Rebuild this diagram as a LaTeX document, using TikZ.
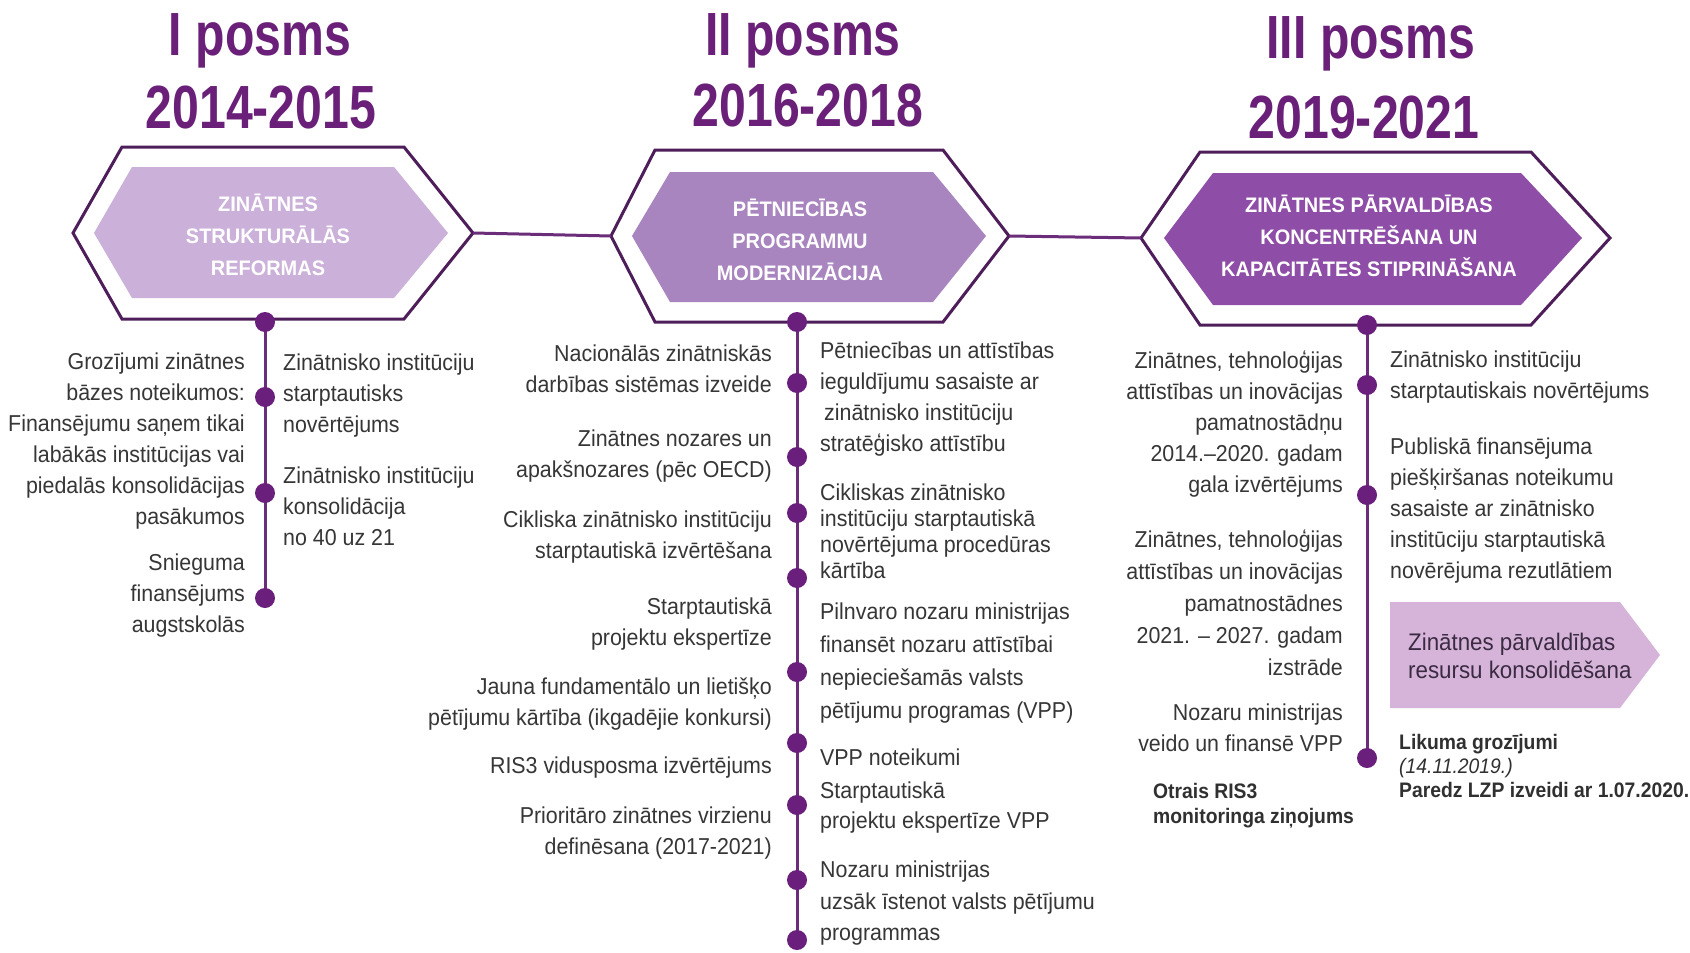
\documentclass[tikz,border=0pt]{standalone}
\usepackage{fontspec}
\setmainfont{Liberation Sans}[FakeStretch=0.93]
\newfontfamily\titlefont{Liberation Sans}[FakeStretch=0.79]
\newfontfamily\hexfont{Liberation Sans}[FakeStretch=0.95]
\newfontfamily\notefont{Liberation Sans}[FakeStretch=0.92]
\definecolor{titlecol}{HTML}{6A2078}
\definecolor{hexline}{HTML}{4E1E5A}
\definecolor{hexA}{HTML}{CBB0D9}
\definecolor{hexB}{HTML}{A985BF}
\definecolor{hexC}{HTML}{8E4DA6}
\definecolor{dotcol}{HTML}{6A1F7C}
\definecolor{tlcol}{HTML}{6B2D7A}
\definecolor{txt}{HTML}{363636}
\definecolor{arrowfill}{HTML}{D6B4D9}
\definecolor{arrowtxt}{HTML}{3A2A42}
\definecolor{notecol}{HTML}{303030}
\begin{document}
\begin{tikzpicture}[x=1pt,y=-1pt,
  body/.style={font=\fontsize{23}{31}\selectfont, text=txt, inner sep=0pt},
  lbl/.style={body, align=right, anchor=east},
  rbl/.style={body, align=left, anchor=west},
  tdot/.style={circle, minimum size=20pt, inner sep=0pt},
  ttl/.style={font=\titlefont\bfseries\fontsize{61}{61}\selectfont, text=titlecol, anchor=base, inner sep=0pt},
  hextext/.style={font=\hexfont\bfseries\fontsize{21}{32}\selectfont, text=white, align=center, inner sep=0pt},
  note/.style={font=\notefont\bfseries\fontsize{21}{25}\selectfont, text=notecol, align=left, anchor=west, inner sep=0pt},
  hexedge/.style={draw=hexline, line width=3pt, line join=miter},
  conn/.style={draw=tlcol, line width=3pt},
  tline/.style={draw=tlcol, line width=3pt}]
\useasboundingbox[fill=white] (0,0) rectangle (1690,953);

% titles
\node[ttl] (t1a) at (260,55) {I posms};
\node[ttl] (t1b) at (261,128) {2014-2015};
\node[ttl] (t2a) at (803,55) {II posms};
\node[ttl] (t2b) at (808,126) {2016-2018};
\node[ttl] (t3a) at (1371,58) {III posms};
\node[ttl] (t3b) at (1364,138) {2019-2021};

% hexagons
\fill[hexA] (132,167) -- (394,167) -- (448,233) -- (394,298) -- (132,298) -- (94,233) -- cycle;
\draw[hexedge] (122,147) -- (404,147) -- (473,233) -- (404,319) -- (122,319) -- (73,233) -- cycle;
\fill[hexB] (670,172) -- (933,172) -- (986,236) -- (933,302) -- (670,302) -- (632,236) -- cycle;
\draw[hexedge] (655,150) -- (943,150) -- (1009,236) -- (943,322) -- (655,322) -- (611,236) -- cycle;
\fill[hexC] (1213,173) -- (1521,173) -- (1582,238) -- (1521,305) -- (1213,305) -- (1164,238) -- cycle;
\draw[hexedge] (1200,152) -- (1531,152) -- (1610,238) -- (1531,325) -- (1200,325) -- (1141,238) -- cycle;
\coordinate (h1e) at (473,233);
\coordinate (h2w) at (611,236);
\coordinate (h2e) at (1009,236);
\coordinate (h3w) at (1141,238);
\draw[conn] (h1e) -- (h2w);
\draw[conn] (h2e) -- (h3w);

\node[hextext] (x1) at (268,235) {ZINĀTNES\\STRUKTURĀLĀS\\REFORMAS};
\node[hextext] (x2) at (800,240) {PĒTNIECĪBAS\\PROGRAMMU\\MODERNIZĀCIJA};
\node[hextext] (x3) at (1369,236) {ZINĀTNES PĀRVALDĪBAS\\KONCENTRĒŠANA UN\\KAPACITĀTES STIPRINĀŠANA};

% arrow box
\fill[arrowfill] (1390,602) -- (1620,602) -- (1660,655) -- (1620,708) -- (1390,708) -- cycle;
\node[rbl, text=arrowtxt, font=\fontsize{24}{28}\selectfont] (ab) at (1408,656) {Zinātnes pārvaldības\\resursu konsolidēšana};

% timeline dots (column 1)
\node[tdot] (a1) at (265,322) {};
\node[tdot] (a2) at (265,397) {};
\node[tdot] (a3) at (265,493) {};
\node[tdot] (a4) at (265,598) {};
% column 2
\node[tdot] (b1) at (797,322) {};
\node[tdot] (b2) at (797,383) {};
\node[tdot] (b3) at (797,457) {};
\node[tdot] (b4) at (797,513) {};
\node[tdot] (b5) at (797,578) {};
\node[tdot] (b6) at (797,672) {};
\node[tdot] (b7) at (797,743) {};
\node[tdot] (b8) at (797,805) {};
\node[tdot] (b9) at (797,880) {};
\node[tdot] (b10) at (797,940) {};
% column 3
\node[tdot] (c1) at (1367,325) {};
\node[tdot] (c2) at (1367,385) {};
\node[tdot] (c3) at (1367,495) {};
\node[tdot] (c4) at (1367,758) {};
\draw[tline] (a1.center) -- (a4.center);
\draw[tline] (b1.center) -- (b10.center);
\draw[tline] (c1.center) -- (c4.center);
\foreach \n in {a1,a2,a3,a4,b1,b2,b3,b4,b5,b6,b7,b8,b9,b10,c1,c2,c3,c4}
  \fill[dotcol] (\n) circle (10pt);

% column 1 texts
\node[lbl] (l11) at (245,441.5) {Grozījumi zinātnes\\bāzes noteikumos:\\Finansējumu saņem tikai\\labākās institūcijas vai\\piedalās konsolidācijas\\pasākumos};
\node[lbl] (l12) at (245,596) {Snieguma\\finansējums\\augstskolās};
\node[rbl] (r11) at (283,396) {Zinātnisko institūciju\\starptautisks\\novērtējums};
\node[rbl] (r12) at (283,506) {Zinātnisko institūciju\\konsolidācija\\no 40 uz 21};

% column 2 texts
\node[lbl] (l21) at (772,369) {Nacionālās zinātniskās\\darbības sistēmas izveide};
\node[lbl] (l22) at (772,456) {Zinātnes nozares un\\apakšnozares (pēc OECD)};
\node[lbl] (l23) at (772,537.5) {Cikliska zinātnisko institūciju\\starptautiskā izvērtēšana};
\node[lbl] (l24) at (772,624) {Starptautiskā\\projektu ekspertīze};
\node[lbl] (l25) at (772,704) {Jauna fundamentālo un lietišķo\\pētījumu kārtība (ikgadējie konkursi)};
\node[lbl] (l26) at (772,768) {RIS3 vidusposma izvērtējums};
\node[lbl] (l27) at (772,833) {Prioritāro zinātnes virzienu\\definēsana (2017-2021)};
\node[rbl] (r21) at (820,399.5) {Pētniecības un attīstības\\ieguldījumu sasaiste ar\\\hspace*{4pt}zinātnisko institūciju\\stratēģisko attīstību};
\node[rbl, font=\fontsize{23}{26}\selectfont] (r22) at (820,531) {Cikliskas zinātnisko\\institūciju starptautiskā\\novērtējuma procedūras\\kārtība};
\node[rbl, font=\fontsize{23}{33}\selectfont] (r23) at (820,663) {Pilnvaro nozaru ministrijas\\finansēt nozaru attīstībai\\nepieciešamās valsts\\pētījumu programas (VPP)};
\node[rbl] (r24) at (820,757) {VPP noteikumi};
\node[rbl, font=\fontsize{23}{30}\selectfont] (r25) at (820,808) {Starptautiskā\\projektu ekspertīze VPP};
\node[rbl, font=\fontsize{23}{31.5}\selectfont] (r26) at (820,903.5) {Nozaru ministrijas\\uzsāk īstenot valsts pētījumu\\programmas};

% column 3 texts
\node[lbl] (l31) at (1343,424.5) {Zinātnes, tehnoloģijas\\attīstības un inovācijas\\pamatnostādņu\\2014.–2020. gadam\\gala izvērtējums};
\node[lbl, font=\fontsize{23}{32}\selectfont] (l32) at (1343,602.5) {Zinātnes, tehnoloģijas\\attīstības un inovācijas\\pamatnostādnes\\2021. – 2027. gadam\\izstrāde};
\node[lbl] (l33) at (1343,727.5) {Nozaru ministrijas\\veido un finansē VPP};
\node[rbl] (r31) at (1390,377) {Zinātnisko institūciju\\starptautiskais novērtējums};
\node[rbl] (r32) at (1390,510.5) {Publiskā finansējuma\\piešķiršanas noteikumu\\sasaiste ar zinātnisko\\institūciju starptautiskā\\novērējuma rezutlātiem};

% notes
\node[note] (n1) at (1153,805.5) {Otrais RIS3\\monitoringa ziņojums};
\node[note, font=\notefont\bfseries\fontsize{21}{24}\selectfont] (n2) at (1399,766) {Likuma grozījumi\\{\mdseries\itshape (14.11.2019.)}\\Paredz LZP izveidi ar 1.07.2020.};
\end{tikzpicture}
\end{document}
